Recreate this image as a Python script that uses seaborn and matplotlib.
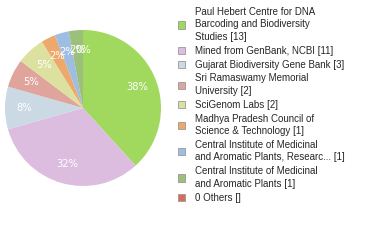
import matplotlib
matplotlib.use("Agg")
import matplotlib.pyplot as plt
from matplotlib.patches import Patch
import seaborn as sns

sns.set_theme(style="white")
plt.rcParams["font.family"] = ["Liberation Sans", "DejaVu Sans"]

labels = [
    "Paul Hebert Centre for DNA\nBarcoding and Biodiversity\nStudies [13]",
    "Mined from GenBank, NCBI [11]",
    "Gujarat Biodiversity Gene Bank [3]",
    "Sri Ramaswamy Memorial\nUniversity [2]",
    "SciGenom Labs [2]",
    "Madhya Pradesh Council of\nScience & Technology [1]",
    "Central Institute of Medicinal\nand Aromatic Plants, Researc... [1]",
    "Central Institute of Medicinal\nand Aromatic Plants [1]",
    "0 Others []",
]
counts = [13, 11, 3, 2, 2, 1, 1, 1, 0]
colors = ["#a0d95d", "#dcbde0", "#cbd9e5", "#dfa59c", "#dde1a0",
          "#eda96c", "#9dbde2", "#9cbf79", "#d86c55"]

W, H = 380, 240
fig = plt.figure(figsize=(W / 100, H / 100), dpi=100)

cx, cy, r = 83, 108, 78
ax = fig.add_axes([(cx - r) / W, (H - cy - r) / H, 2 * r / W, 2 * r / H])
ax.pie(counts, colors=colors, startangle=90, counterclock=False,
       autopct=lambda p: f"{int(p)}%", pctdistance=0.75,
       wedgeprops=dict(linewidth=0),
       textprops=dict(color="white", fontsize=7.2, family="DejaVu Sans"))
ax.set_xlim(-1, 1)
ax.set_ylim(-1, 1)
ax.set_aspect("equal")
ax.axis("off")

handles = [Patch(facecolor=c, edgecolor="#999999", linewidth=0.6) for c in colors]
leg = fig.legend(handles, labels, loc="upper left",
                 bbox_to_anchor=(178 / W, 1 - 7 / H), frameon=False,
                 fontsize=7, handlelength=0.75, handleheight=0.75,
                 handletextpad=0.95, labelspacing=0.4, borderaxespad=0,
                 borderpad=0)
for t in leg.get_texts():
    t.set_linespacing(1.3)

fig.savefig("out.png", dpi=100)
